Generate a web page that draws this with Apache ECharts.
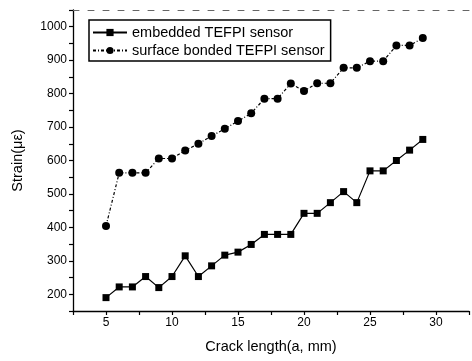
<!DOCTYPE html>
<html>
<head>
<meta charset="utf-8">
<script src="https://cdn.jsdelivr.net/npm/echarts@6/dist/echarts.min.js"></script>
<style>
  html, body { margin: 0; padding: 0; background: #fff; }
  #chart { width: 472px; height: 361px; }
</style>
</head>
<body>
<div id="chart"></div>
<script>
// crack length (mm)
var crackLength = [5, 6, 7, 8, 9, 10, 11, 12, 13, 14, 15, 16, 17, 18, 19, 20, 21, 22, 23, 24, 25, 26, 27, 28, 29];
// strain (με)
var embedded = [190, 222, 222, 253, 220, 253, 315, 253, 285, 317, 326, 349, 379, 379, 379, 442, 442, 474, 507, 474, 569, 569, 600, 631, 663];
var surfaceBonded = [404, 563, 563, 563, 606, 606, 630, 650, 673, 695, 718, 741, 785, 785, 830, 808, 831, 831, 877, 877, 897, 897, 944, 944, 966];
var seriesNames = ['embedded TEFPI sensor', 'surface bonded TEFPI sensor'];

function pairs(xs, ys) {
    return xs.map(function (x, i) { return [x, ys[i]]; });
}

var myChart = echarts.init(document.getElementById('chart'));

var font = 'Liberation Sans, Arial, sans-serif';

var option = {
    animation: false,
    backgroundColor: '#fff',
    textStyle: { fontFamily: font, color: '#000' },
    grid: { left: 73, right: 0, top: 10, bottom: 50, containLabel: false },
    legend: {
        orient: 'vertical',
        left: 89,
        top: 20,
        data: seriesNames,
        itemWidth: 34,
        itemHeight: 9,
        itemGap: 3,
        padding: [5, 6, 3, 3],
        borderColor: '#000',
        borderWidth: 1.5,
        textStyle: { fontSize: 14.5, color: '#000', fontFamily: font }
    },
    xAxis: [{
        type: 'value',
        min: 2.5,
        max: 32.5,
        interval: 2.5,
        name: 'Crack length(a, mm)',
        nameLocation: 'middle',
        nameGap: 28,
        nameTextStyle: { fontSize: 14.5, color: '#000' },
        axisLine: { lineStyle: { color: '#000', width: 1.3 } },
        axisTick: { length: 4, lineStyle: { color: '#000', width: 1.2 } },
        axisLabel: {
            fontSize: 12, color: '#000', margin: 6,
            formatter: function (v) { return v % 5 === 0 ? String(v) : ''; }
        },
        splitLine: { show: false }
    }, {
        type: 'value',
        position: 'top',
        min: 2.5,
        max: 32.5,
        axisLine: { lineStyle: { color: '#666', width: 1, type: [6, 9] } },
        axisTick: { show: false },
        axisLabel: { show: false },
        splitLine: { show: false }
    }],
    yAxis: {
        type: 'value',
        min: 150,
        max: 1050,
        interval: 50,
        name: 'Strain(\u03bc\u03b5)',
        nameLocation: 'middle',
        nameGap: 48,
        nameTextStyle: { fontSize: 14.5, color: '#000' },
        axisLine: { show: true, lineStyle: { color: '#000', width: 1.3 } },
        axisTick: { length: 4, lineStyle: { color: '#000', width: 1.2 } },
        axisLabel: {
            fontSize: 12, color: '#000', margin: 6,
            formatter: function (v) { return (v % 100 === 0 && v <= 1000) ? String(v) : ''; }
        },
        splitLine: { show: false }
    },
    series: [{
        name: seriesNames[0],
        type: 'line',
        data: pairs(crackLength, embedded),
        symbol: 'rect',
        symbolSize: 7,
        itemStyle: { color: '#000' },
        lineStyle: { color: '#000', width: 1.2, type: 'solid' }
    }, {
        name: seriesNames[1],
        type: 'line',
        data: pairs(crackLength, surfaceBonded),
        symbol: 'circle',
        symbolSize: 8,
        itemStyle: { color: '#000' },
        lineStyle: { color: '#000', width: 1.2, type: [3, 2, 1, 2] }
    }]
};

myChart.setOption(option);
</script>
</body>
</html>
